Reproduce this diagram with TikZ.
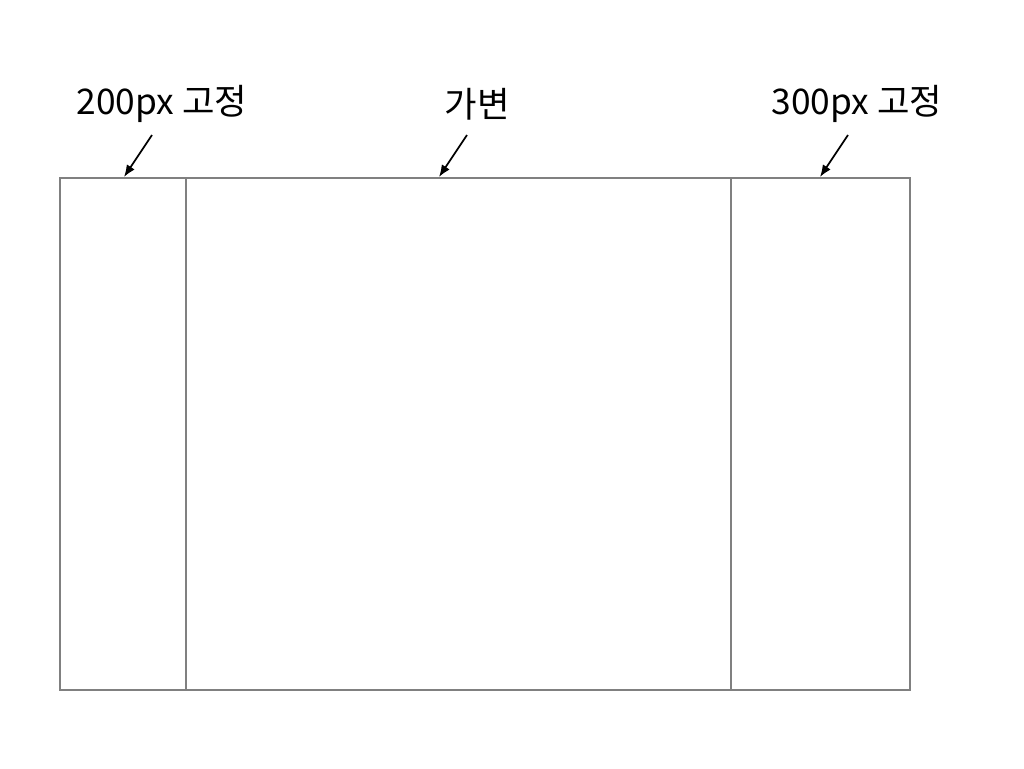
\documentclass[tikz,border=0pt]{standalone}
\usepackage{fontspec}
\newfontfamily\kr{Noto Sans CJK KR}
\usetikzlibrary{positioning,arrows.meta}

\begin{document}
\begin{tikzpicture}[>={Latex[length=9pt,width=7pt]},x=0.75pt,y=-0.75pt,font=\kr\fontsize{26.5}{30}\selectfont]
	\useasboundingbox (0,0) rectangle (1024,768);
	% columns
	\node [minimum width=126*0.75pt,minimum height=512*0.75pt,outer sep=0pt,inner sep=0pt,draw=black!50,line width=1.5pt,anchor=north west] at (60,178) (L) {};
	\node [minimum width=545*0.75pt,minimum height=512*0.75pt,outer sep=0pt,inner sep=0pt,draw=black!50,line width=1.5pt,anchor=north west] at (L.north east) (M) {};
	\node [minimum width=179*0.75pt,minimum height=512*0.75pt,outer sep=0pt,inner sep=0pt,draw=black!50,line width=1.5pt,anchor=north west] at (M.north east) (R) {};
	% labels
	\node at (162,104) (Lt) {200px 고정};
	\node at (477,104) (Mt) {가변};
	\node at (857,104) (Rt) {300px 고정};
	\coordinate (La) at (152,135);
	\coordinate (Ma) at (467,135);
	\coordinate (Ra) at (848,135);
	\coordinate (Lb) at (124,177);
	\coordinate (Mb) at (439,177);
	\coordinate (Rb) at (820,177);
	\draw [->,line width=1.3pt] (La) -- (Lb);
	\draw [->,line width=1.3pt] (Ma) -- (Mb);
	\draw [->,line width=1.3pt] (Ra) -- (Rb);
\end{tikzpicture}
\end{document}
